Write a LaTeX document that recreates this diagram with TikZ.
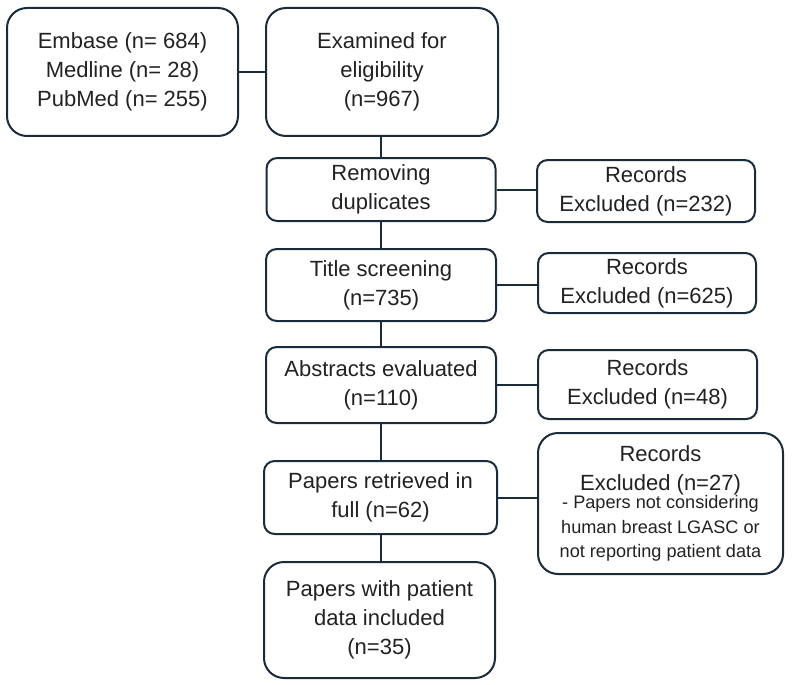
\documentclass[tikz,border=0pt]{standalone}
\usepackage{fontspec}
\setmainfont{Liberation Sans}
\definecolor{edge}{HTML}{1A2B3C}
\definecolor{txt}{HTML}{222222}
\newcommand{\bigf}{\fontsize{16.5}{21.75}\selectfont}
\newcommand{\smallf}{\fontsize{13.6}{18.4}\selectfont}
\begin{document}
\begin{tikzpicture}[x=0.75pt,y=-0.75pt,
  box/.style={draw=edge, line width=1.5pt, fill=white, align=center, text=txt,
    font=\bigf, inner sep=2pt},
  bigbox/.style={box, rounded corners=15pt},
  smbox/.style={box, rounded corners=8pt},
  link/.style={draw=edge, line width=1.5pt}]
\useasboundingbox (0,0) rectangle (793,685);
\node[bigbox, minimum width={231*0.75pt}, minimum height={128*0.75pt}] (src) at (122.5,72)
  {Embase (n= 684)\\Medline (n= 28)\\PubMed (n= 255)};
\node[bigbox, minimum width={232*0.75pt}, minimum height={128*0.75pt}] (exam) at (382,72)
  {Examined for\\eligibility\\(n=967)};
\node[smbox, minimum width={229*0.75pt}, minimum height={63*0.75pt}] (rem) at (381,189.5)
  {Removing\\duplicates};
\node[smbox, minimum width={230*0.75pt}, minimum height={72*0.75pt}] (title) at (381,285)
  {Title screening\\(n=735)};
\node[smbox, minimum width={230*0.75pt}, minimum height={76*0.75pt}] (abs) at (381,385)
  {Abstracts evaluated\\(n=110)};
\node[smbox, minimum width={233*0.75pt}, minimum height={73*0.75pt}] (pap) at (380.5,497.5)
  {Papers retrieved in\\full (n=62)};
\node[bigbox, minimum width={231*0.75pt}, minimum height={116*0.75pt}] (fin) at (379.5,620)
  {Papers with patient\\data included\\(n=35)};
\node[smbox, minimum width={218*0.75pt}, minimum height={62*0.75pt}] (r1) at (646,191)
  {Records\\Excluded (n=232)};
\node[smbox, minimum width={218*0.75pt}, minimum height={60*0.75pt}] (r2) at (647,283)
  {Records\\Excluded (n=625)};
\node[smbox, minimum width={219*0.75pt}, minimum height={69*0.75pt}] (r3) at (647.5,384.5)
  {Records\\Excluded (n=48)};
\node[bigbox, minimum width={245*0.75pt}, minimum height={141*0.75pt}] (r4) at (660.5,503.5)
  {Records\\Excluded (n=27)\\[-8pt]{\smallf - Papers not considering}\\[-3.3pt]{\smallf human breast LGASC or}\\[-3.3pt]{\smallf not reporting patient data}};
\begin{scope}[on background layer/.try]
\end{scope}
\draw[link] (src.east) -- (exam.west);
\draw[link] (exam.south -| rem.north) -- (rem.north);
\draw[link] (rem.south) -- (title.north);
\draw[link] (title.south) -- (abs.north);
\draw[link] (abs.south) -- (abs.south |- pap.north);
\draw[link] (abs.south |- pap.south) -- (abs.south |- fin.north);
\draw[link] (rem.east) -- (rem.east -| r1.west);
\draw[link] (title.east) -- (title.east -| r2.west);
\draw[link] (abs.east) -- (abs.east -| r3.west);
\draw[link] (pap.east) -- (pap.east -| r4.west);
\end{tikzpicture}
\end{document}
